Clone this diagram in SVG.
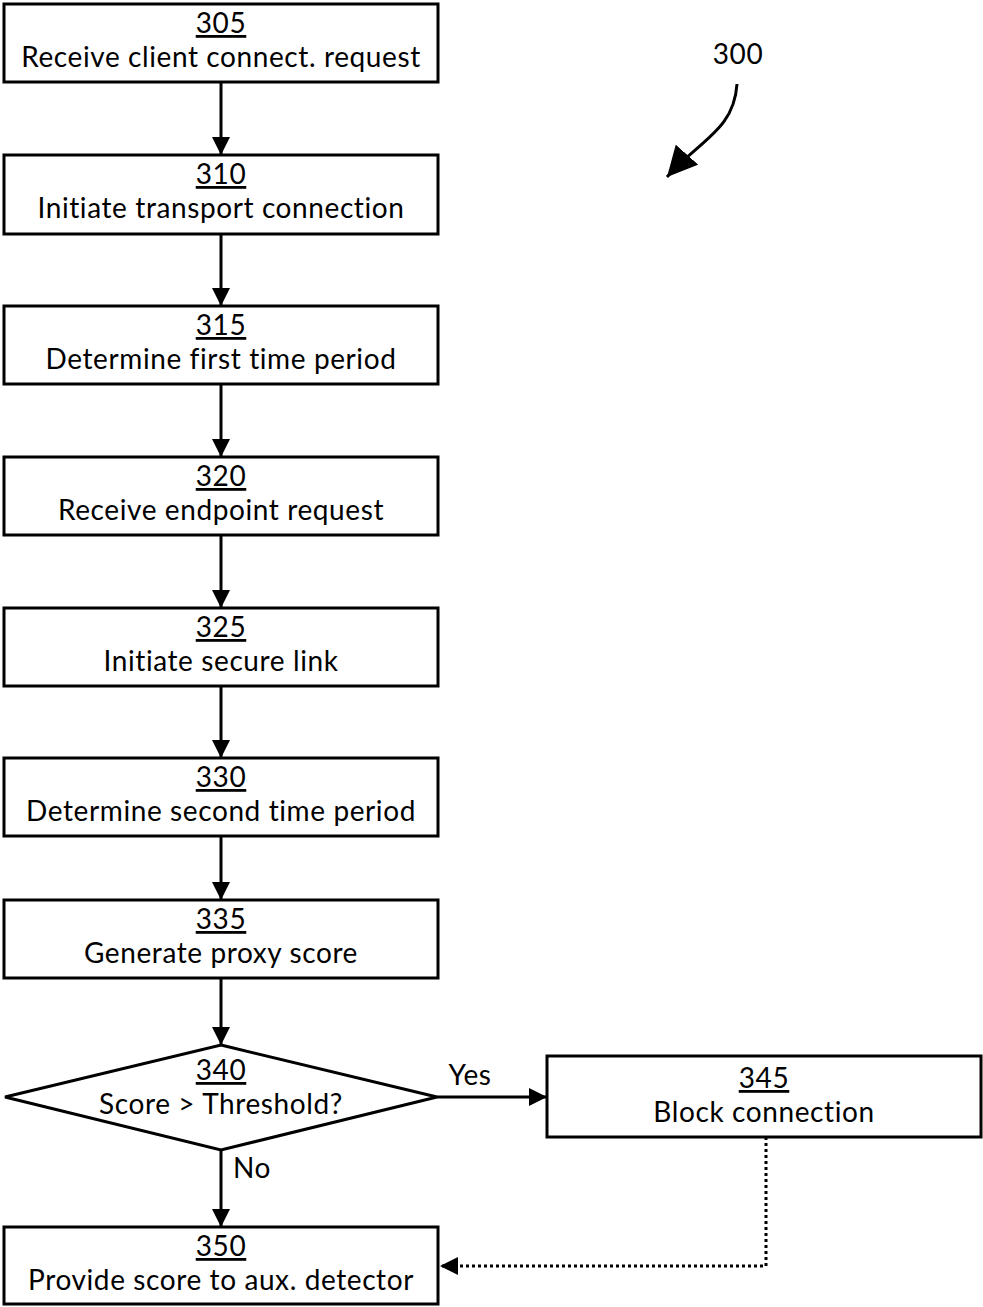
<svg xmlns="http://www.w3.org/2000/svg" width="983" height="1307" viewBox="0 0 983 1307">
<style>
.box{fill:#fff;stroke:#000;stroke-width:3}
.t{font-family:Lato,"Open Sans",sans-serif;font-size:28px;letter-spacing:0.6px;fill:#000;text-anchor:middle}
.n{text-decoration:underline}
.c{fill:none;stroke:#000;stroke-width:3}
.d{fill:none;stroke:#000;stroke-width:3;stroke-dasharray:3 3}
</style>
<defs>
<marker id="ah" viewBox="0 0 10 10" refX="10" refY="5" markerWidth="6" markerHeight="6" orient="auto" markerUnits="strokeWidth">
<path d="M0,0 L10,5 L0,10 Z" fill="#000"/>
</marker>
<marker id="ahb" viewBox="0 0 10 10" refX="10" refY="5" markerWidth="10" markerHeight="10" orient="auto" markerUnits="strokeWidth">
<path d="M0,0 L10,5 L0,10 Z" fill="#000"/>
</marker>
</defs>
<g id="n305"><rect class="box" x="4" y="4" width="434" height="78"/><text class="t n" x="221" y="33">305</text><text class="t" x="221" y="67">Receive client connect. request</text></g>
<g id="n310"><rect class="box" x="4" y="155" width="434" height="79"/><text class="t n" x="221" y="184">310</text><text class="t" x="221" y="218">Initiate transport connection</text></g>
<g id="n315"><rect class="box" x="4" y="306" width="434" height="78"/><text class="t n" x="221" y="335">315</text><text class="t" x="221" y="369">Determine first time period</text></g>
<g id="n320"><rect class="box" x="4" y="457" width="434" height="78"/><text class="t n" x="221" y="486">320</text><text class="t" x="221" y="520">Receive endpoint request</text></g>
<g id="n325"><rect class="box" x="4" y="608" width="434" height="78"/><text class="t n" x="221" y="637">325</text><text class="t" x="221" y="671">Initiate secure link</text></g>
<g id="n330"><rect class="box" x="4" y="758" width="434" height="78"/><text class="t n" x="221" y="787">330</text><text class="t" x="221" y="821">Determine second time period</text></g>
<g id="n335"><rect class="box" x="4" y="900" width="434" height="78"/><text class="t n" x="221" y="929">335</text><text class="t" x="221" y="963">Generate proxy score</text></g>
<g id="n340"><polygon class="box" points="221,1045 437,1097 221,1150 5,1097"/><text class="t n" x="221" y="1080">340</text><text class="t" x="221" y="1114">Score &gt; Threshold?</text></g>
<g id="n345"><rect class="box" x="547" y="1056" width="434" height="81"/><text class="t n" x="764" y="1088">345</text><text class="t" x="764" y="1122">Block connection</text></g>
<g id="n350"><rect class="box" x="4" y="1227" width="434" height="77"/><text class="t n" x="221" y="1256">350</text><text class="t" x="221" y="1290">Provide score to aux. detector</text></g>
<g id="ref300"><text class="t" x="738" y="64">300</text><path class="c" d="M737,84 C734,130 700,140 667,177" marker-end="url(#ahb)"/></g>
<g id="connectors">
<line class="c" x1="221" y1="82" x2="221" y2="155" marker-end="url(#ah)"/>
<line class="c" x1="221" y1="234" x2="221" y2="306" marker-end="url(#ah)"/>
<line class="c" x1="221" y1="384" x2="221" y2="457" marker-end="url(#ah)"/>
<line class="c" x1="221" y1="535" x2="221" y2="608" marker-end="url(#ah)"/>
<line class="c" x1="221" y1="686" x2="221" y2="758" marker-end="url(#ah)"/>
<line class="c" x1="221" y1="836" x2="221" y2="900" marker-end="url(#ah)"/>
<line class="c" x1="221" y1="978" x2="221" y2="1045" marker-end="url(#ah)"/>
<line class="c" x1="437" y1="1097" x2="547" y2="1097" marker-end="url(#ah)"/>
<text class="t" x="470" y="1085">Yes</text>
<line class="c" x1="221" y1="1150" x2="221" y2="1227" marker-end="url(#ah)"/>
<text class="t" x="252" y="1178">No</text>
<path class="d" d="M766,1137 L766,1266 L440,1266" marker-end="url(#ah)"/>
</g>
</svg>
